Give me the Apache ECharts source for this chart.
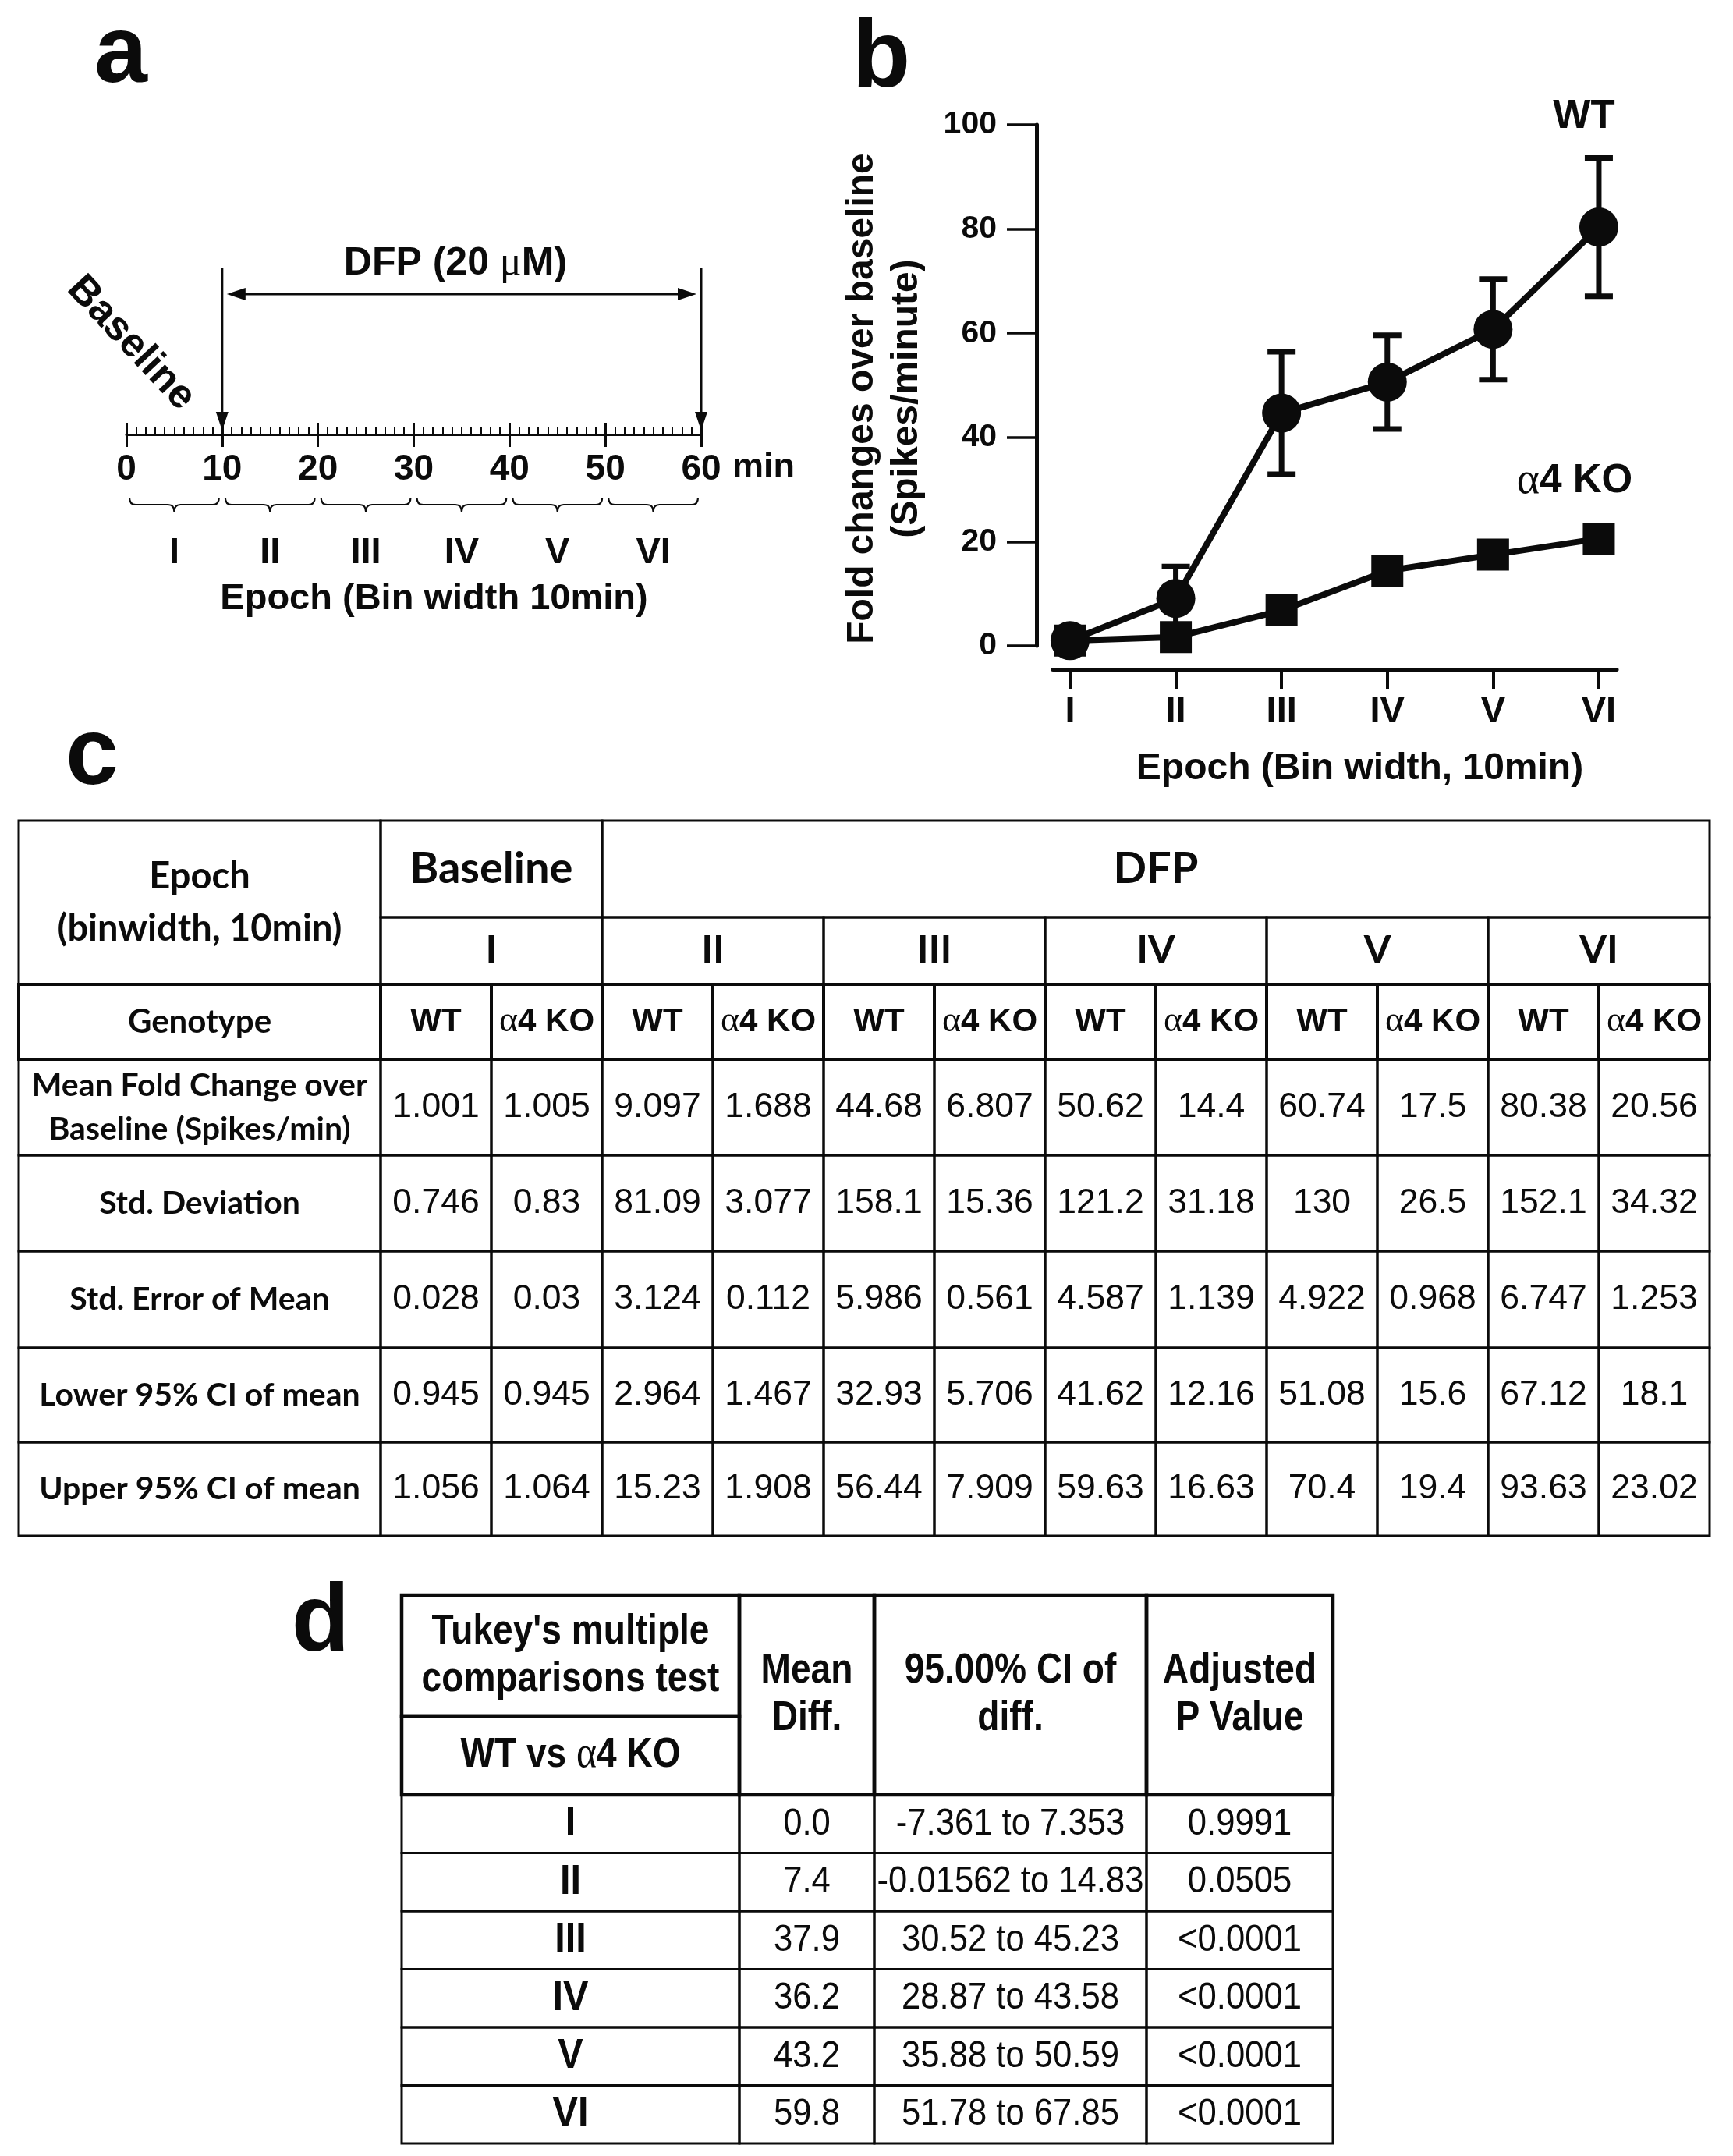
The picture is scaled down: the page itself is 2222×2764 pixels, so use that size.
<!DOCTYPE html>
<html>
<head>
<meta charset="utf-8">
<script src="https://cdn.jsdelivr.net/npm/echarts@6/dist/echarts.min.js"></script>
<style>html,body{margin:0;padding:0;background:#fff}#c{width:2222px;height:2764px}</style>
</head>
<body>
<div id="c"></div>
<script>
// ---------------- DATA ----------------
const epochs = ['I', 'II', 'III', 'IV', 'V', 'VI'];
const epochPos = [1, 2, 3, 4, 5, 6];
const genotypes = ['WT', 'α4 KO'];
const timeTicks = [0, 10, 20, 30, 40, 50, 60];
const epochMid = [5, 15, 25, 35, 45, 55];
const dfpWindow = [10, 60];
const dfpLabel = 'DFP (20 {m|μ}M)';

const meanWT  = [1.001, 9.097, 44.68, 50.62, 60.74, 80.38];
const meanKO  = [1.005, 1.688, 6.807, 14.4, 17.5, 20.56];
const sdWT    = [0.746, 81.09, 158.1, 121.2, 130, 152.1];
const sdKO    = [0.83, 3.077, 15.36, 31.18, 26.5, 34.32];
const semWT   = [0.028, 3.124, 5.986, 4.587, 4.922, 6.747];
const semKO   = [0.03, 0.112, 0.561, 1.139, 0.968, 1.253];
const lowerWT = [0.945, 2.964, 32.93, 41.62, 51.08, 67.12];
const lowerKO = [0.945, 1.467, 5.706, 12.16, 15.6, 18.1];
const upperWT = [1.056, 15.23, 56.44, 59.63, 70.4, 93.63];
const upperKO = [1.064, 1.908, 7.909, 16.63, 19.4, 23.02];

const statLabels = ['Mean Fold Change over\nBaseline (Spikes/min)', 'Std. Deviation',
  'Std. Error of Mean', 'Lower 95% CI of mean', 'Upper 95% CI of mean'];
const statWT = [meanWT, sdWT, semWT, lowerWT, upperWT];
const statKO = [meanKO, sdKO, semKO, lowerKO, upperKO];
const epochHeaderLabel = 'Epoch\n(binwidth, 10min)';
const genotypeLabel = 'Genotype';
const baselineLabel = 'Baseline';
const dfpGroupLabel = 'DFP';

const tukeyTitle = "Tukey's multiple\ncomparisons test";
const comparisonLabel = 'WT vs α4 KO';
const tukeyHeaders = ['Mean\nDiff.', '95.00% CI of\ndiff.', 'Adjusted\nP Value'];
const meanDiff = [0.0, 7.4, 37.9, 36.2, 43.2, 59.8];
const ciLow  = [-7.361, -0.01562, 30.52, 28.87, 35.88, 51.78];
const ciHigh = [7.353, 14.83, 45.23, 43.58, 50.59, 67.85];
const pValues = ['0.9991', '0.0505', '<0.0001', '<0.0001', '<0.0001', '<0.0001'];

// ---------------- LAYOUT / STYLE ----------------
const FONT = "'Liberation Sans', Arial, Helvetica, sans-serif";
const FONT_C = "Lato, 'Open Sans', sans-serif";
const SERIF = "'Liberation Serif', 'DejaVu Serif', serif";
const INK = '#0b0b0b';

const colWidthsC = [464, 142, 142, 142, 142, 142, 142, 142, 142, 142, 142, 142, 142];
const rowHeightsC = [124, 86, 96, 123, 123, 124, 121, 120];
const colWidthsD = [433, 173, 349, 239];
const rowHeightsD = [155, 101, 74.5, 74.5, 74.5, 74.5, 74.5, 74.5];

function cumsum(a) { const r = [0]; a.forEach(v => r.push(r[r.length - 1] + v)); return r; }
const colC = cumsum(colWidthsC), rowC = cumsum(rowHeightsC);
const colD = cumsum(colWidthsD), rowD = cumsum(rowHeightsD);

const STY = {
  hdr:   {fontFamily: FONT_C, fontWeight: 'bold', fontSize: 47, lineHeight: 67},
  gen:   {fontFamily: FONT_C, fontWeight: 'bold', fontSize: 42},
  big:   {fontFamily: FONT_C, fontWeight: 'bold', fontSize: 56},
  roman: {fontFamily: FONT_C, fontWeight: 'bold', fontSize: 50},
  geno:  {fontFamily: FONT, fontWeight: 'bold', fontSize: 42},
  lbl:   {fontFamily: FONT_C, fontWeight: 'bold', fontSize: 41, lineHeight: 56},
  num:   {fontFamily: FONT, fontWeight: 'normal', fontSize: 44.5},
  dh:    {fontFamily: FONT, fontWeight: 'bold', fontSize: 53, lineHeight: 61, sx: 0.87},
  drom:  {fontFamily: FONT, fontWeight: 'bold', fontSize: 54, sx: 0.9},
  dnum:  {fontFamily: FONT, fontWeight: 'normal', fontSize: 49, sx: 0.89}
};

function addCell(list, cols, rows, c0, c1, r0, r1, text, style, lw) {
  list.push({x0: cols[c0], x1: cols[c1], y0: rows[r0], y1: rows[r1], text: String(text), style, lw: lw || 3});
}

// table c cells
const cellsC = [];
addCell(cellsC, colC, rowC, 0, 1, 0, 2, epochHeaderLabel, 'hdr');
addCell(cellsC, colC, rowC, 1, 3, 0, 1, baselineLabel, 'big');
addCell(cellsC, colC, rowC, 3, 13, 0, 1, dfpGroupLabel, 'big');
epochs.forEach((e, i) => addCell(cellsC, colC, rowC, 1 + 2 * i, 3 + 2 * i, 1, 2, e, 'roman'));
addCell(cellsC, colC, rowC, 0, 1, 2, 3, genotypeLabel, 'gen', 4);
epochs.forEach((e, i) => genotypes.forEach((g, j) =>
  addCell(cellsC, colC, rowC, 1 + 2 * i + j, 2 + 2 * i + j, 2, 3, g, 'geno', 4)));
statLabels.forEach((lab, k) => {
  addCell(cellsC, colC, rowC, 0, 1, 3 + k, 4 + k, lab, 'lbl');
  epochs.forEach((e, i) => {
    addCell(cellsC, colC, rowC, 1 + 2 * i, 2 + 2 * i, 3 + k, 4 + k, statWT[k][i], 'num');
    addCell(cellsC, colC, rowC, 2 + 2 * i, 3 + 2 * i, 3 + k, 4 + k, statKO[k][i], 'num');
  });
});

// table d cells
const cellsD = [];
addCell(cellsD, colD, rowD, 0, 1, 0, 1, tukeyTitle, 'dh', 4.5);
addCell(cellsD, colD, rowD, 0, 1, 1, 2, comparisonLabel, 'dh', 4.5);
tukeyHeaders.forEach((h, j) => addCell(cellsD, colD, rowD, 1 + j, 2 + j, 0, 2, h, 'dh', 4.5));
epochs.forEach((e, i) => {
  addCell(cellsD, colD, rowD, 0, 1, 2 + i, 3 + i, e, 'drom');
  addCell(cellsD, colD, rowD, 1, 2, 2 + i, 3 + i, meanDiff[i].toFixed(1), 'dnum');
  addCell(cellsD, colD, rowD, 2, 3, 2 + i, 3 + i, ciLow[i] + ' to ' + ciHigh[i], 'dnum');
  addCell(cellsD, colD, rowD, 3, 4, 2 + i, 3 + i, pValues[i], 'dnum');
});

function makeCellRenderer(cells) {
  return function (params, api) {
    const c = cells[params.dataIndex];
    const p0 = api.coord([api.value(0), api.value(1)]);
    const p1 = api.coord([api.value(2), api.value(3)]);
    const st = STY[c.style];
    const text = c.text.replace(/α/g, '{g|α}');
    const ts = {
      text: text, x: 0, y: 0,
      align: 'center', verticalAlign: 'middle', fill: INK,
      fontFamily: st.fontFamily, fontWeight: st.fontWeight, fontSize: st.fontSize,
      rich: {g: {fontFamily: SERIF, fontWeight: 'normal', fontSize: st.fontSize + 4, fill: INK}}
    };
    if (st.lineHeight) ts.lineHeight = st.lineHeight;
    return {
      type: 'group',
      children: [
        {type: 'rect', shape: {x: p0[0], y: p0[1], width: p1[0] - p0[0], height: p1[1] - p0[1]},
          style: {fill: 'none', stroke: INK, lineWidth: c.lw}},
        {type: 'text', x: (p0[0] + p1[0]) / 2, y: (p0[1] + p1[1]) / 2,
          scaleX: st.sx || 1, scaleY: 1, style: ts}
      ]
    };
  };
}

function renderDfp(params, api) {
  const a = api.value(0), b = api.value(1);
  const t0 = api.coord([a, 1]), e0 = api.coord([a, 0.023]);
  const t1 = api.coord([b, 1]), e1 = api.coord([b, 0.023]);
  const yA = api.coord([a, 0.845])[1];
  const mid = api.coord([(a + b) / 2, 1.028]);
  const hl = 24, hw = 8, gap = 6;
  const S = {stroke: INK, lineWidth: 3};
  const F = {fill: INK};
  return {type: 'group', children: [
    {type: 'line', shape: {x1: t0[0], y1: t0[1], x2: e0[0], y2: e0[1] - hl + 2}, style: S},
    {type: 'polygon', shape: {points: [[e0[0] - hw, e0[1] - hl], [e0[0] + hw, e0[1] - hl], [e0[0], e0[1]]]}, style: F},
    {type: 'line', shape: {x1: t1[0], y1: t1[1], x2: e1[0], y2: e1[1] - hl + 2}, style: S},
    {type: 'polygon', shape: {points: [[e1[0] - hw, e1[1] - hl], [e1[0] + hw, e1[1] - hl], [e1[0], e1[1]]]}, style: F},
    {type: 'line', shape: {x1: t0[0] + gap + hl - 2, y1: yA, x2: t1[0] - gap - hl + 2, y2: yA}, style: S},
    {type: 'polygon', shape: {points: [[t0[0] + gap, yA], [t0[0] + gap + hl, yA - hw], [t0[0] + gap + hl, yA + hw]]}, style: F},
    {type: 'polygon', shape: {points: [[t1[0] - gap, yA], [t1[0] - gap - hl, yA - hw], [t1[0] - gap - hl, yA + hw]]}, style: F},
    {type: 'text', style: {text: dfpLabel, x: mid[0] - 8, y: mid[1], align: 'center', verticalAlign: 'middle',
      fontFamily: FONT, fontWeight: 'bold', fontSize: 50, fill: INK,
      rich: {m: {fontFamily: SERIF, fontWeight: 'normal', fontSize: 52, fill: INK}}}}
  ]};
}

const epochBins = epochs.map((e, i) => [timeTicks[i], timeTicks[i + 1]]);
function renderBrace(params, api) {
  const p0 = api.coord([api.value(0), 0]), p1 = api.coord([api.value(1), 0]);
  const x0 = p0[0] + 4, x1 = p1[0] - 4, m = (x0 + x1) / 2;
  const yt = p0[1] + 81, ym = yt + 9, yb = yt + 18, r = 8;
  const d = `M${x0} ${yt} Q${x0} ${ym} ${x0 + r} ${ym} L${m - r} ${ym} Q${m} ${ym} ${m} ${yb} ` +
            `Q${m} ${ym} ${m + r} ${ym} L${x1 - r} ${ym} Q${x1} ${ym} ${x1} ${yt}`;
  return {type: 'path', shape: {pathData: d}, style: {fill: 'none', stroke: INK, lineWidth: 2.2}};
}

function renderErr(params, api) {
  const x = api.value(0);
  const lo = api.coord([x, api.value(1)]), hi = api.coord([x, api.value(2)]);
  const w = 18, S = {stroke: INK, lineWidth: 7};
  return {type: 'group', children: [
    {type: 'line', shape: {x1: lo[0], y1: lo[1], x2: hi[0], y2: hi[1]}, style: S},
    {type: 'line', shape: {x1: lo[0] - w, y1: lo[1], x2: lo[0] + w, y2: lo[1]}, style: S},
    {type: 'line', shape: {x1: hi[0] - w, y1: hi[1], x2: hi[0] + w, y2: hi[1]}, style: S}
  ]};
}

const bold = (size, extra) => Object.assign({fontFamily: FONT, fontWeight: 'bold', fontSize: size, color: INK}, extra || {});
const letter = (t, x, y) => ({type: 'text', x: x, y: y, style: {text: t, align: 'center', verticalAlign: 'middle',
  fontFamily: FONT, fontWeight: 'bold', fontSize: 122, fill: INK}});

const option = {
  animation: false,
  backgroundColor: '#ffffff',
  textStyle: {fontFamily: FONT, color: INK},
  grid: [
    {left: 162, top: 344, width: 737, height: 213, containLabel: false, outerBoundsMode: 'none'},
    {left: 1350, top: 160, width: 723, height: 668, containLabel: false, outerBoundsMode: 'none'},
    {left: 24, top: 1052, width: 2168, height: 917, containLabel: false, outerBoundsMode: 'none'},
    {left: 515, top: 2045, width: 1194, height: 703, containLabel: false, outerBoundsMode: 'none'}
  ],
  xAxis: [
    {gridIndex: 0, type: 'value', position: 'bottom', min: 0, max: 60, interval: 10,
      axisLine: {show: true, onZero: false, lineStyle: {color: INK, width: 3}},
      axisTick: {show: true, customValues: timeTicks, length: 16, lineStyle: {color: INK, width: 3}},
      axisLabel: Object.assign({customValues: timeTicks, margin: 22}, bold(46)),
      splitLine: {show: false},
      name: 'min', nameLocation: 'end', nameGap: 40,
      nameTextStyle: bold(45, {align: 'left', verticalAlign: 'top', padding: [20, 0, 0, 0]})},
    {gridIndex: 0, type: 'value', position: 'bottom', min: 0, max: 60, interval: 10,
      axisLine: {show: false, onZero: false},
      axisTick: {show: true, inside: true, length: 15, lineStyle: {color: INK, width: 3}},
      minorTick: {show: true, splitNumber: 10, length: 9, lineStyle: {color: INK, width: 2}},
      axisLabel: {show: false}, splitLine: {show: false}, minorSplitLine: {show: false}},
    {gridIndex: 0, type: 'value', position: 'bottom', min: 0, max: 60,
      axisLine: {show: false, onZero: false}, axisTick: {show: false},
      axisLabel: Object.assign({customValues: epochMid, margin: 129,
        formatter: v => epochs[epochMid.indexOf(v)]}, bold(47)),
      splitLine: {show: false},
      name: 'Epoch (Bin width 10min)', nameLocation: 'middle', nameGap: 188,
      nameTextStyle: bold(47, {padding: [0, 0, 0, 52]})},
    {gridIndex: 1, type: 'value', position: 'bottom', min: epochPos[0] - 0.162, max: epochPos[5] + 0.17, offset: 30,
      axisLine: {show: true, onZero: false, lineStyle: {color: INK, width: 5}},
      axisTick: {show: true, customValues: epochPos, length: 25, lineStyle: {color: INK, width: 4}},
      axisLabel: Object.assign({customValues: epochPos, margin: 32,
        formatter: v => epochs[epochPos.indexOf(v)]}, bold(47)),
      splitLine: {show: false},
      name: 'Epoch (Bin width, 10min)', nameLocation: 'middle', nameGap: 104,
      nameTextStyle: bold(48, {padding: [0, 0, 0, 64]})},
    {gridIndex: 2, type: 'value', min: 0, max: colC[colC.length - 1], show: false},
    {gridIndex: 3, type: 'value', min: 0, max: colD[colD.length - 1], show: false}
  ],
  yAxis: [
    {gridIndex: 0, type: 'value', min: 0, max: 1, show: false},
    {gridIndex: 1, type: 'value', min: 0, max: 100, interval: 20, offset: 21,
      axisLine: {show: true, onZero: false, lineStyle: {color: INK, width: 5}},
      axisTick: {show: true, length: 38, lineStyle: {color: INK, width: 3.5}},
      axisLabel: Object.assign({margin: 51}, bold(41)),
      splitLine: {show: false},
      name: 'Fold changes over baseline\n(Spikes/minute)', nameLocation: 'middle', nameRotate: 90, nameGap: 138,
      nameTextStyle: bold(48, {lineHeight: 57, padding: [0, 34, 0, 0]})},
    {gridIndex: 2, type: 'value', inverse: true, min: 0, max: rowC[rowC.length - 1], show: false},
    {gridIndex: 3, type: 'value', inverse: true, min: 0, max: rowD[rowD.length - 1], show: false}
  ],
  series: [
    {type: 'custom', name: 'dfp', xAxisIndex: 0, yAxisIndex: 0, clip: false,
      data: [dfpWindow], renderItem: renderDfp},
    {type: 'custom', name: 'braces', xAxisIndex: 0, yAxisIndex: 0, clip: false,
      data: epochBins, renderItem: renderBrace},
    {type: 'custom', name: 'errWT', xAxisIndex: 3, yAxisIndex: 1, clip: false, z: 3,
      data: epochPos.map((x, i) => [x, lowerWT[i], upperWT[i]]), renderItem: renderErr},
    {type: 'custom', name: 'errKO', xAxisIndex: 3, yAxisIndex: 1, clip: false, z: 3,
      data: epochPos.map((x, i) => [x, lowerKO[i], upperKO[i]]), renderItem: renderErr},
    {type: 'line', name: 'WT', xAxisIndex: 3, yAxisIndex: 1, z: 5,
      data: epochPos.map((x, i) => [x, meanWT[i]]),
      symbol: 'circle', symbolSize: 50, showAllSymbol: true,
      lineStyle: {color: INK, width: 8}, itemStyle: {color: INK, borderWidth: 0}},
    {type: 'line', name: 'α4 KO', xAxisIndex: 3, yAxisIndex: 1, z: 5,
      data: epochPos.map((x, i) => [x, meanKO[i]]),
      symbol: 'rect', symbolSize: 41, showAllSymbol: true,
      lineStyle: {color: INK, width: 8}, itemStyle: {color: INK, borderWidth: 0}},
    {type: 'custom', name: 'tableC', xAxisIndex: 4, yAxisIndex: 2, clip: false,
      data: cellsC.map(c => [c.x0, c.y0, c.x1, c.y1]), renderItem: makeCellRenderer(cellsC)},
    {type: 'custom', name: 'tableD', xAxisIndex: 5, yAxisIndex: 3, clip: false,
      data: cellsD.map(c => [c.x0, c.y0, c.x1, c.y1]), renderItem: makeCellRenderer(cellsD)}
  ],
  graphic: [
    letter('a', 155, 71),
    letter('b', 1130, 77),
    letter('c', 118, 971),
    letter('d', 411, 2082),
    {type: 'text', x: 168, y: 440, rotation: -47 * Math.PI / 180,
      style: {text: 'Baseline', align: 'center', verticalAlign: 'middle', fontFamily: FONT, fontWeight: 'bold', fontSize: 52, fill: INK}},
    {type: 'text', x: 2031, y: 150, style: {text: 'WT', align: 'center', verticalAlign: 'middle', fontFamily: FONT, fontWeight: 'bold', fontSize: 51, fill: INK}},
    {type: 'text', x: 2019, y: 617, style: {text: '{g|α}4 KO', align: 'center', verticalAlign: 'middle', fontFamily: FONT, fontWeight: 'bold', fontSize: 51, fill: INK,
      rich: {g: {fontFamily: SERIF, fontWeight: 'normal', fontSize: 56, fill: INK}}}}
  ]
};

const chart = echarts.init(document.getElementById('c'), null, {renderer: 'canvas', width: 2222, height: 2764});
chart.setOption(option);
</script>
</body>
</html>
